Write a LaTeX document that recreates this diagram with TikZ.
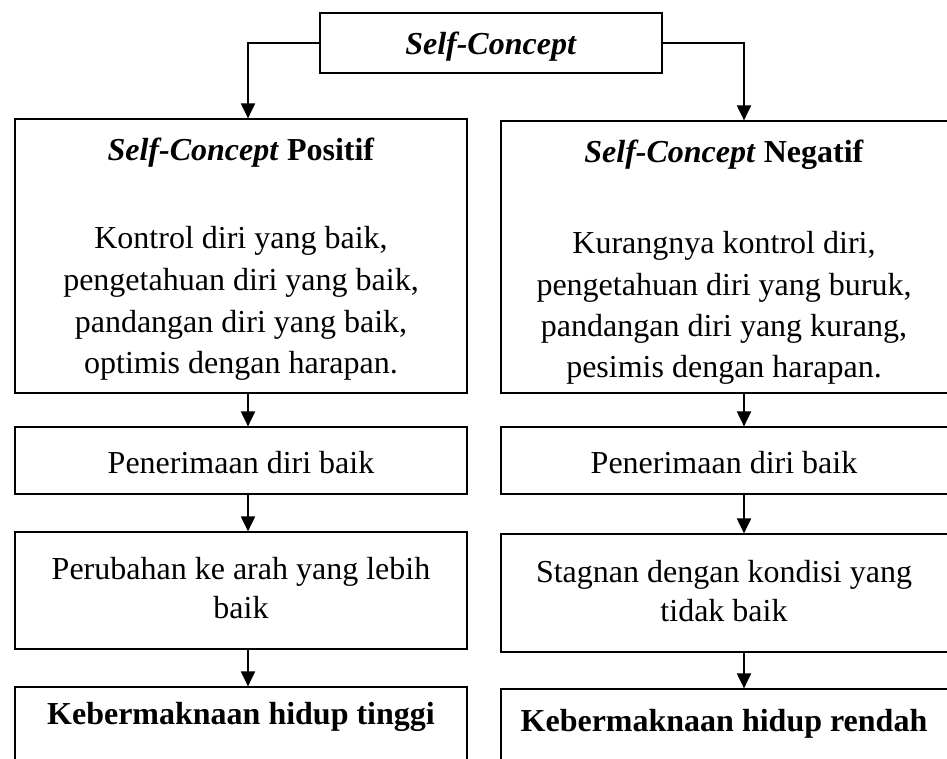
\documentclass[tikz,border=0pt]{standalone}
\usepackage{fontspec}
\setmainfont{Liberation Serif}
\usetikzlibrary{arrows.meta}
\begin{document}
\begin{tikzpicture}[x=1pt,y=-1pt,
  box/.style={draw, line width=1.2pt, inner sep=0pt, rectangle},
  txt/.style={inner sep=0pt, anchor=base, font=\fontsize{32}{38}\selectfont},
  arr/.style={line width=2pt, -{Triangle[width=14pt,length=15pt]}}]
\path[use as bounding box] (0,0) rectangle (947,758);
\clip (0,0) rectangle (947,758);
\fill[white] (0,0) rectangle (947,758);
% boxes
\node[box, minimum width=342pt, minimum height=60pt] (top) at (491,43) {};
\node[box, minimum width=452pt, minimum height=274pt] (L1) at (241,256) {};
\node[box, minimum width=452pt, minimum height=272pt] (R1) at (727,257) {};
\node[box, minimum width=452pt, minimum height=67pt] (L2) at (241,460.5) {};
\node[box, minimum width=452pt, minimum height=67pt] (R2) at (727,460.5) {};
\node[box, minimum width=452pt, minimum height=117pt] (L3) at (241,590.5) {};
\node[box, minimum width=452pt, minimum height=118pt] (R3) at (727,593) {};
\node[box, minimum width=452pt, minimum height=113pt] (L4) at (241,743.5) {};
\node[box, minimum width=452pt, minimum height=111pt] (R4) at (727,744.5) {};
% texts
\node[txt] (ttop) at (491,54) {\textbf{\textit{Self-Concept}}};
\node[txt] (tl0) at (241,160) {\textbf{\textit{Self-Concept} Positif}};
\node[txt] (tl1) at (241,248) {Kontrol diri yang baik,};
\node[txt] (tl2) at (241,290) {pengetahuan diri yang baik,};
\node[txt] (tl3) at (241,332) {pandangan diri yang baik,};
\node[txt] (tl4) at (241,373) {optimis dengan harapan.};
\node[txt] (tr0) at (724,162) {\textbf{\textit{Self-Concept} Negatif}};
\node[txt] (tr1) at (724,253) {Kurangnya kontrol diri,};
\node[txt] (tr2) at (724,295) {pengetahuan diri yang buruk,};
\node[txt] (tr3) at (724,336) {pandangan diri yang kurang,};
\node[txt] (tr4) at (724,377) {pesimis dengan harapan.};
\node[txt] (tl5) at (241,473) {Penerimaan diri baik};
\node[txt] (tr5) at (724,473) {Penerimaan diri baik};
\node[txt] (tl6) at (241,579) {Perubahan ke arah yang lebih};
\node[txt] (tl7) at (241,618) {baik};
\node[txt] (tr6) at (724,582) {Stagnan dengan kondisi yang};
\node[txt] (tr7) at (724,621) {tidak baik};
\node[txt] (tl8) at (241,724) {\textbf{Kebermaknaan hidup tinggi}};
\node[txt] (tr8) at (724,731) {\textbf{Kebermaknaan hidup rendah}};
% arrows
\coordinate (ax) at (248,0);
\coordinate (bx) at (744,0);
\draw[arr] (top.west) -| (L1.north -| ax);
\draw[arr] (top.east) -| (R1.north -| bx);
\draw[arr] (L1.south -| ax) -- (L2.north -| ax);
\draw[arr] (L2.south -| ax) -- (L3.north -| ax);
\draw[arr] (L3.south -| ax) -- (L4.north -| ax);
\draw[arr] (R1.south -| bx) -- (R2.north -| bx);
\draw[arr] (R2.south -| bx) -- (R3.north -| bx);
\draw[arr] (R3.south -| bx) -- (R4.north -| bx);
\end{tikzpicture}
\end{document}
